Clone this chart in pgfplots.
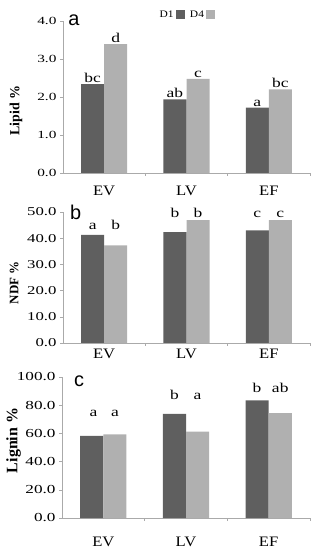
\documentclass[border=0pt]{standalone}
\usepackage{fontspec}
\setmainfont{Liberation Serif}
\newfontfamily\tickfont[FakeStretch=1.4]{Liberation Serif}
\newfontfamily\catfont[FakeStretch=1.15]{Liberation Serif}
\newfontfamily\lblfont[FakeStretch=1.3]{Liberation Serif}
\newfontfamily\legfont[FakeStretch=1.15]{Liberation Serif}
\newfontfamily\panelfont{Liberation Sans}
\usepackage{pgfplots}
\pgfplotsset{compat=1.18}
\definecolor{done}{RGB}{95,95,95}
\definecolor{dfour}{RGB}{176,176,176}
\definecolor{axgray}{RGB}{170,170,170}

\tikzset{lbl/.style={font=\lblfont\fontsize{13.5}{13.5}\selectfont, anchor=base, inner sep=0pt}}
\pgfplotsset{
 panel/.style={
  scale only axis, anchor=south west,
  xmin=-0.5, xmax=2.5, ymin=0,
  axis x line*=bottom, axis y line*=left,
  axis line style={draw=axgray, color=axgray, line width=0.5pt},
  every outer x axis line/.append style={draw=axgray},
  every outer y axis line/.append style={draw=axgray},
  ybar=0pt, bar width=0.28,
  xtick={0,1,2}, xticklabels={EV,LV,EF},
  minor xtick={0.5,1.5,2.5},
  major x tick style={draw=none},
  minor x tick style={draw=axgray, line width=0.5pt},
  minor tick length=3bp,
  major y tick style={draw=axgray, line width=0.5pt},
  tick align=outside, major tick length=3bp,
  y tick label style={/pgf/number format/fixed, /pgf/number format/fixed zerofill, /pgf/number format/precision=1, /pgf/number format/assume math mode=true},
  every axis y label/.style={rotate=90, anchor=center},
  clip=false,
 },
 d1/.style={fill=done, draw=none, legend image code/.code={\fill[done] (0bp,-4.5bp) rectangle (9.5bp,5bp);}},
 d4/.style={fill=dfour, draw=none, legend image code/.code={\fill[dfour] (0bp,-4.5bp) rectangle (9.5bp,5bp);}},
}

\begin{document}
\begin{tikzpicture}
\path[use as bounding box] (0,0) rectangle (333bp,550bp);

% ---------- panel a ----------
\begin{axis}[panel, at={(63bp,377bp)}, width=247bp, height=152bp,
  ymax=4, ytick={0,1,2,3,4},
  yticklabel style={font=\tickfont\fontsize{11}{11}\selectfont},
  xticklabel style={font=\catfont\fontsize{14.5}{14.5}\selectfont, yshift=-7bp},
  ylabel={\bfseries Lipid \%},
  ylabel style={font=\fontsize{14}{14}\selectfont, at={(axis description cs:-0.19,0.41)}},
  legend style={at={(0.5,1.04)}, anchor=center, draw=none, fill=none,
    font=\legfont\fontsize{10}{10}\selectfont,
    /tikz/every even column/.append style={column sep=3bp}},
  legend columns=-1, legend plot pos=right,
]
\addplot[d1] coordinates {(0,2.34) (1,1.94) (2,1.72)};
\addplot[d4] coordinates {(0,3.39) (1,2.48) (2,2.20)};
\legend{D1,D4}
\node[lbl] at (axis cs:-0.14,2.38) {bc};
\node[lbl] at (axis cs:0.14,3.44) {d};
\node[lbl] at (axis cs:0.86,1.98) {ab};
\node[lbl] at (axis cs:1.14,2.52) {c};
\node[lbl] at (axis cs:1.86,1.76) {a};
\node[lbl] at (axis cs:2.14,2.24) {bc};
\node[font=\panelfont\fontsize{20}{20}\selectfont, anchor=base west, inner sep=0pt] at (rel axis cs:0.021,0.969) {a};
\end{axis}

% ---------- panel b ----------
\begin{axis}[panel, at={(63bp,207bp)}, width=247bp, height=131bp,
  ymax=50, ytick={0,10,20,30,40,50},
  yticklabel style={font=\tickfont\fontsize{12}{12}\selectfont},
  xticklabel style={font=\catfont\fontsize{14.5}{14.5}\selectfont, yshift=0bp},
  ylabel={\bfseries NDF \%},
  ylabel style={font=\fontsize{13}{13}\selectfont, at={(axis description cs:-0.198,0.46)}},
]
\addplot[d1] coordinates {(0,41.3) (1,42.3) (2,43.0)};
\addplot[d4] coordinates {(0,37.3) (1,46.9) (2,46.9)};
\node[lbl] at (axis cs:-0.14,43.4) {a};
\node[lbl] at (axis cs:0.14,43.4) {b};
\node[lbl] at (axis cs:0.86,48.0) {b};
\node[lbl] at (axis cs:1.14,48.0) {b};
\node[lbl] at (axis cs:1.86,48.0) {c};
\node[lbl] at (axis cs:2.14,48.0) {c};
\node[font=\panelfont\fontsize{20}{20}\selectfont, anchor=base west, inner sep=0pt] at (rel axis cs:0.028,0.939) {b};
\end{axis}

% ---------- panel c ----------
\begin{axis}[panel, at={(62bp,32bp)}, width=248bp, height=141bp,
  ymax=100, ytick={0,20,40,60,80,100},
  yticklabel style={font=\tickfont\fontsize{12.3}{12.3}\selectfont},
  xticklabel style={font=\catfont\fontsize{14.5}{14.5}\selectfont, yshift=-13bp},
  ylabel={\bfseries Lignin \%},
  ylabel style={font=\fontsize{16}{16}\selectfont, at={(axis description cs:-0.195,0.55)}},
]
\addplot[d1] coordinates {(0,58.2) (1,73.8) (2,83.5)};
\addplot[d4] coordinates {(0,59.3) (1,61.3) (2,74.3)};
\node[lbl] at (axis cs:-0.12,71.8) {a};
\node[lbl] at (axis cs:0.14,71.8) {a};
\node[lbl] at (axis cs:0.86,83.7) {b};
\node[lbl] at (axis cs:1.14,83.7) {a};
\node[lbl] at (axis cs:1.86,89.1) {b};
\node[lbl] at (axis cs:2.14,89.1) {ab};
\node[font=\panelfont\fontsize{20}{20}\selectfont, anchor=base west, inner sep=0pt] at (rel axis cs:0.048,0.931) {c};
\end{axis}
\end{tikzpicture}
\end{document}
